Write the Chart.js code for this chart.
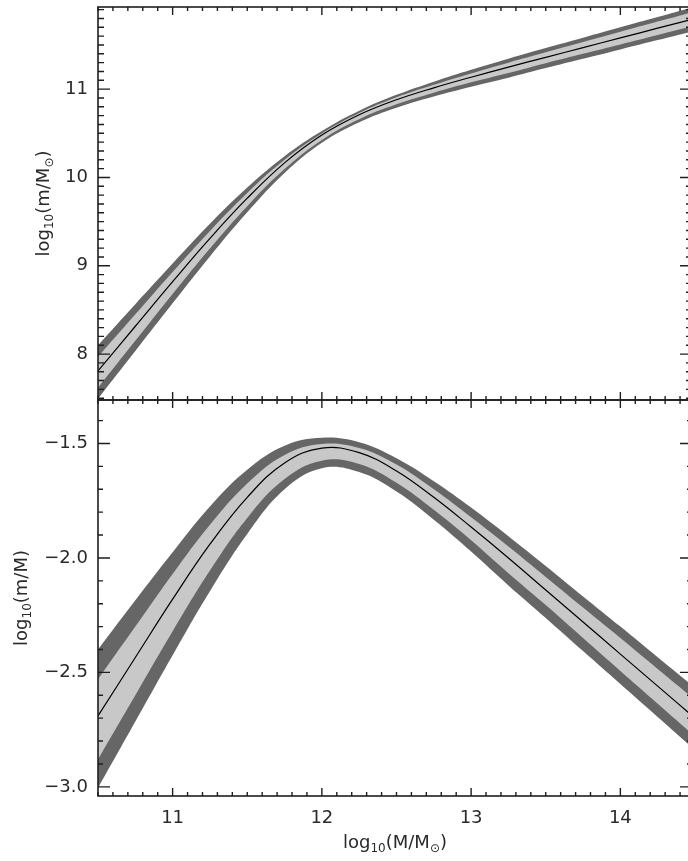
<!DOCTYPE html>
<html>
<head>
<meta charset="utf-8">
<script src="https://cdn.jsdelivr.net/npm/chart.js@4.4.1/dist/chart.umd.min.js"></script>
<style>
  html, body { margin: 0; padding: 0; background: #fff; overflow: hidden; }
  #wrap { position: relative; width: 688px; height: 861px; overflow: hidden; }
  canvas { position: absolute; left: 0; top: 0; }
</style>
</head>
<body>
<div id="wrap">
  <canvas id="bottomChart" width="700" height="861"></canvas>
  <canvas id="topChart" width="700" height="861"></canvas>
</div>
<script>
// 1. Data (halo mass grid, log10 M/Msun)
const haloMass = [10.5, 10.75, 11.0, 11.25, 11.5, 11.75, 12.0, 12.25, 12.5, 12.75, 13.0, 13.25, 13.5, 13.75, 14.0, 14.25, 14.5];

// top panel: log10(m/Msun)
const topMid     = [7.81, 8.315, 8.82, 9.31, 9.765, 10.165, 10.48, 10.71, 10.88, 11.015, 11.135, 11.25, 11.36, 11.47, 11.58, 11.69, 11.80];
const topLightHi = [7.97, 8.45, 8.93, 9.395, 9.825, 10.20, 10.498, 10.73, 10.908, 11.05, 11.178, 11.30, 11.417, 11.533, 11.65, 11.765, 11.881];
const topLightLo = [7.62, 8.15, 8.68, 9.195, 9.675, 10.095, 10.425, 10.66, 10.828, 10.96, 11.077, 11.183, 11.294, 11.40, 11.506, 11.613, 11.72];
const topDarkHi  = [8.10, 8.565, 9.025, 9.475, 9.885, 10.24, 10.525, 10.755, 10.935, 11.085, 11.22, 11.345, 11.465, 11.582, 11.70, 11.816, 11.933];
const topDarkLo  = [7.495, 8.035, 8.575, 9.105, 9.605, 10.05, 10.392, 10.625, 10.79, 10.917, 11.028, 11.13, 11.238, 11.343, 11.449, 11.555, 11.661];

// bottom panel: log10(m/M)
const botMid     = [-2.69, -2.435, -2.18, -1.94, -1.735, -1.585, -1.52, -1.54, -1.62, -1.735, -1.865, -2.0, -2.14, -2.28, -2.42, -2.56, -2.70];
const botLightHi = [-2.53, -2.30, -2.07, -1.855, -1.675, -1.55, -1.502, -1.52, -1.592, -1.70, -1.822, -1.95, -2.083, -2.217, -2.35, -2.485, -2.619];
const botLightLo = [-2.88, -2.60, -2.32, -2.055, -1.825, -1.655, -1.575, -1.59, -1.672, -1.79, -1.923, -2.067, -2.206, -2.35, -2.494, -2.637, -2.78];
const botDarkHi  = [-2.40, -2.185, -1.975, -1.775, -1.615, -1.51, -1.475, -1.495, -1.565, -1.665, -1.78, -1.905, -2.035, -2.168, -2.30, -2.434, -2.567];
const botDarkLo  = [-3.005, -2.715, -2.425, -2.145, -1.895, -1.70, -1.608, -1.625, -1.71, -1.833, -1.972, -2.12, -2.262, -2.407, -2.551, -2.695, -2.839];

// tick labels
const xTickVals = [11, 12, 13, 14];
const xTickLabels = ['11', '12', '13', '14'];
const topTickVals = [8, 9, 10, 11];
const topTickLabels = ['8', '9', '10', '11'];
const botTickVals = [-3.0, -2.5, -2.0, -1.5];
const botTickLabels = ['\u22123.0', '\u22122.5', '\u22122.0', '\u22121.5'];

const FONT = '"DejaVu Sans", sans-serif';
const INK = '#1e1e1e';
const TEXT = '#2a2a2a';
const DARK = '#666666';
const LIGHT = '#c8c8c8';

function pts(ys) {
    return haloMass.map((x, i) => ({ x: x, y: ys[i] }));
}

// 2. Rich text with subscripts (log10, Msun)
function drawRich(ctx, parts, cx, cy, size) {
    let w = 0;
    parts.forEach(p => {
        ctx.font = (p.sub ? Math.round(size * 0.68) : size) + 'px ' + FONT;
        p.w = ctx.measureText(p.t).width;
        w += p.w;
    });
    let x = cx - w / 2;
    ctx.textAlign = 'left';
    ctx.textBaseline = 'middle';
    parts.forEach(p => {
        ctx.font = (p.sub ? Math.round(size * 0.68) : size) + 'px ' + FONT;
        ctx.fillText(p.t, x, cy + (p.sub ? size * 0.32 : 0));
        x += p.w;
    });
}

// 3. IDL style box axes, ticks inward
function boxAxes(opts) {
    return {
        id: 'boxAxes',
        afterDraw(chart) {
            const ctx = chart.ctx;
            const a = chart.chartArea;
            const xs = chart.scales.x, ys = chart.scales.y;
            ctx.save();
            ctx.strokeStyle = INK;
            ctx.lineWidth = 1.6;
            ctx.strokeRect(a.left, a.top, a.right - a.left, a.bottom - a.top);

            // x ticks top + bottom
            ctx.lineWidth = 1.4;
            for (let i = 105; i <= 145; i++) {
                const px = xs.getPixelForValue(i / 10);
                const len = i % 10 === 0 ? 8 : 4;
                ctx.beginPath();
                ctx.moveTo(px, a.bottom); ctx.lineTo(px, a.bottom - len);
                ctx.moveTo(px, a.top); ctx.lineTo(px, a.top + len);
                ctx.stroke();
            }
            // y ticks left + right
            for (let v = opts.yStart; v <= opts.yEnd + 1e-6; v += opts.minor) {
                const py = ys.getPixelForValue(v);
                if (py < a.top - 0.5 || py > a.bottom + 0.5) continue;
                const r = v / opts.major;
                const len = Math.abs(r - Math.round(r)) < 1e-6 ? 12 : opts.minorLen;
                ctx.beginPath();
                ctx.moveTo(a.left, py); ctx.lineTo(a.left + len, py);
                ctx.moveTo(a.right, py); ctx.lineTo(a.right - len, py);
                ctx.stroke();
            }

            // y tick labels
            ctx.fillStyle = TEXT;
            ctx.font = '18px ' + FONT;
            ctx.textAlign = 'right';
            ctx.textBaseline = 'middle';
            opts.yVals.forEach((v, i) => {
                ctx.fillText(opts.yLabels[i], a.left - 10, ys.getPixelForValue(v));
            });

            // x tick labels + x title (bottom panel only)
            if (opts.xLabels) {
                ctx.textAlign = 'center';
                xTickVals.forEach((v, i) => {
                    ctx.fillText(xTickLabels[i], xs.getPixelForValue(v), a.bottom + 22);
                });
                drawRich(ctx, [{ t: 'log' }, { t: '10', sub: true }, { t: '(M/M' }, { t: '\u2299', sub: true }, { t: ')' }],
                    395, a.bottom + 47, 18);
            }

            // y title
            ctx.save();
            ctx.translate(opts.titleX, (a.top + a.bottom) / 2);
            ctx.rotate(-Math.PI / 2);
            drawRich(ctx, opts.title, 0, 0, 18);
            ctx.restore();
            ctx.restore();
        }
    };
}

// 4. Chart setup for one panel
function setupPanel(id, arrays, yMin, yMax, padding, axisOpts) {
    const canvas = document.getElementById(id);
    new Chart(canvas.getContext('2d'), {
        type: 'line',
        data: {
            datasets: [
                { data: pts(arrays.mid), borderColor: '#000', borderWidth: 1.2, fill: false, order: 0 },
                { data: pts(arrays.lightHi), borderWidth: 0, borderColor: LIGHT, backgroundColor: LIGHT, fill: '+1', order: 1 },
                { data: pts(arrays.lightLo), borderWidth: 0, borderColor: LIGHT, fill: false, order: 1 },
                { data: pts(arrays.darkHi), borderWidth: 0, borderColor: DARK, backgroundColor: DARK, fill: '+1', order: 2 },
                { data: pts(arrays.darkLo), borderWidth: 0, borderColor: DARK, fill: false, order: 2 }
            ]
        },
        options: {
            responsive: false,
            animation: false,
            layout: { padding: padding },
            elements: {
                point: { radius: 0 },
                line: { tension: 0.4 }
            },
            plugins: { legend: { display: false }, tooltip: { enabled: false } },
            scales: {
                x: { type: 'linear', min: 10.5, max: 14.48, display: false },
                y: { type: 'linear', min: yMin, max: yMax, display: false }
            }
        },
        plugins: [boxAxes(axisOpts)]
    });
}

// 5. Init
setupPanel('topChart',
    { mid: topMid, lightHi: topLightHi, lightLo: topLightLo, darkHi: topDarkHi, darkLo: topDarkLo },
    7.48, 11.93,
    { left: 98, top: 7, right: 8, bottom: 461 },
    {
        yStart: 7.5, yEnd: 11.9, minor: 0.1, major: 1, minorLen: 6,
        yVals: topTickVals, yLabels: topTickLabels, xLabels: false, titleX: 44,
        title: [{ t: 'log' }, { t: '10', sub: true }, { t: '(m/M' }, { t: '\u2299', sub: true }, { t: ')' }]
    });

setupPanel('bottomChart',
    { mid: botMid, lightHi: botLightHi, lightLo: botLightLo, darkHi: botDarkHi, darkLo: botDarkLo },
    -3.04, -1.31,
    { left: 98, top: 400, right: 8, bottom: 65 },
    {
        yStart: -3.0, yEnd: -1.4, minor: 0.1, major: 0.5, minorLen: 5,
        yVals: botTickVals, yLabels: botTickLabels, xLabels: true, titleX: 22,
        title: [{ t: 'log' }, { t: '10', sub: true }, { t: '(m/M)' }]
    });
</script>
</body>
</html>
